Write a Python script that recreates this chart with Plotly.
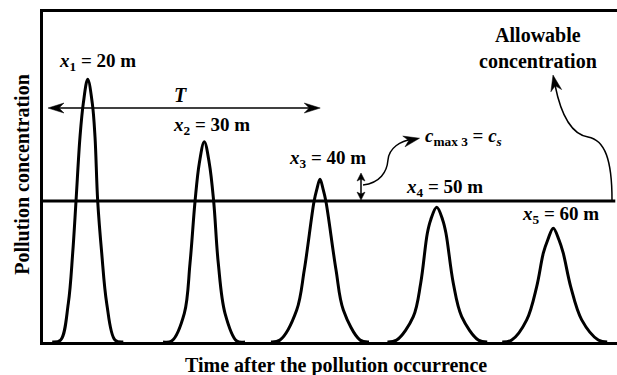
import plotly.graph_objects as go

# ---- data (time 0-100, concentration 0-100 of full scale) ----
labels = ["<i>x</i><sub>1</sub> = 20 m", "<i>x</i><sub>2</sub> = 30 m", "<i>x</i><sub>3</sub> = 40 m",
          "<i>x</i><sub>4</sub> = 50 m", "<i>x</i><sub>5</sub> = 60 m"]

p1_t = [1.6, 3.08, 4.41, 5.17, 5.75, 6.45, 7.02, 7.79, 8.59, 9.06, 9.53, 10.23, 11.10, 12.54, 14.0]
p1_c = [0.0, 0.6, 11.7, 26.9, 42.7, 62.2, 72.3, 79.6, 72.3, 62.2, 42.7, 26.9, 11.7, 0.6, 0.0]

p2_t = [20.9, 22.42, 24.62, 25.61, 26.48, 27.23, 28.10, 28.97, 29.74, 30.54, 31.71, 33.75, 35.2]
p2_c = [0.0, 0.3, 8.7, 23.8, 42.5, 54.2, 60.7, 54.2, 42.5, 23.8, 8.7, 0.3, 0.0]

p3_t = [39.7, 41.29, 44.20, 45.52, 47.21, 47.68, 48.26, 48.83, 49.30, 51.05, 52.32, 55.23, 56.8]
p3_c = [0.0, 0.6, 9.7, 21.8, 42.5, 46.1, 49.3, 46.1, 42.5, 21.8, 9.7, 0.6, 0.0]

p4_t = [60.0, 61.62, 64.51, 65.80, 66.95, 67.54, 68.59, 69.63, 70.21, 71.48, 72.94, 75.84, 77.4]
p4_c = [0.0, 0.6, 7.7, 17.8, 32.9, 37.0, 40.8, 37.0, 32.9, 17.8, 7.7, 0.6, 0.0]

p5_t = [80.0, 81.66, 84.27, 86.01, 87.16, 87.93, 88.90, 89.90, 90.64, 91.93, 93.85, 96.74, 98.3]
p5_c = [0.0, 0.6, 6.7, 16.8, 26.9, 30.9, 34.5, 30.9, 26.9, 16.8, 6.7, 0.6, 0.0]

allowable_c = 42.7
allow_t = [0.0, 99.7]

pulses = [(p1_t, p1_c), (p2_t, p2_c), (p3_t, p3_c), (p4_t, p4_c), (p5_t, p5_c)]

FONT = "Liberation Serif, Times New Roman, serif"
W, H = 617, 375
ML, MR, MT, MB = 43, 0, 12, 33
SX = (W - ML - MR) / 100.0   # pixels per time unit
SY = (H - MT - MB) / 100.0   # pixels per concentration unit

fig = go.Figure()
for t, c in pulses:
    fig.add_trace(go.Scatter(x=t, y=c, mode="lines",
                             line=dict(color="black", width=3, shape="spline", smoothing=1.0),
                             hoverinfo="skip", showlegend=False))

fig.add_trace(go.Scatter(x=allow_t, y=[allowable_c, allowable_c], mode="lines",
                         line=dict(color="black", width=3), hoverinfo="skip", showlegend=False))


def arrowhead(tip_x, tip_y, dir_px, length, half_w, notch):
    """Barbed arrowhead polygon; direction given in screen pixels (dx right, dy down)."""
    import math
    dx, dy = dir_px
    n = math.hypot(dx, dy)
    ux, uy = dx / n, dy / n          # pointing direction (screen)
    px_, py_ = -uy, ux               # perpendicular

    def to_data(ox, oy):
        return tip_x + ox / SX, tip_y - oy / SY

    pts = [(0, 0),
           (-ux * length + px_ * half_w, -uy * length + py_ * half_w),
           (-ux * (length - notch), -uy * (length - notch)),
           (-ux * length - px_ * half_w, -uy * length - py_ * half_w)]
    d = [to_data(ox, oy) for ox, oy in pts]
    path = "M " + " L ".join(f"{a:.3f},{b:.3f}" for a, b in d) + " Z"
    return dict(type="path", xref="x", yref="y", path=path, fillcolor="black",
                line=dict(color="black", width=0.5))


annotations = []

# pulse labels
label_pos = [(9.55, 84.9), (29.44, 65.5), (49.48, 55.5), (69.95, 46.7), (90.24, 38.5)]
for txt, (lx, ly) in zip(labels, label_pos):
    annotations.append(dict(x=lx, y=ly, text="<b>" + txt + "</b>", showarrow=False,
                            font=dict(family=FONT, size=19, color="black"),
                            xanchor="center", yanchor="middle"))

annotations.append(dict(x=23.87, y=74.9, text="<b><i>T</i></b>", showarrow=False,
                        font=dict(family=FONT, size=20, color="black")))
annotations.append(dict(x=73.34, y=62.1, text="<b><i>c</i><sub>max 3</sub> = <i>c<sub>s</sub></i></b>",
                        showarrow=False, font=dict(family=FONT, size=19, color="black")))
annotations.append(dict(x=86.24, y=89.2, text="<b>Allowable<br>concentration</b>", showarrow=False,
                        font=dict(family=FONT, size=20, color="black")))
annotations.append(dict(x=0.51, y=-0.07, xref="paper", yref="paper", showarrow=False,
                        text="<b>Time after the pollution occurrence</b>",
                        font=dict(family=FONT, size=20, color="black"), yanchor="middle"))
annotations.append(dict(x=-0.037, y=0.509, xref="paper", yref="paper", showarrow=False, textangle=-90,
                        text="<b>Pollution concentration</b>",
                        font=dict(family=FONT, size=20, color="black"), xanchor="center", yanchor="middle"))

shapes = [
    # T double arrow
    dict(type="line", xref="x", yref="y", x0=2.5, y0=70.9, x1=46.6, y1=70.9,
         line=dict(color="black", width=1.5)),
    arrowhead(0.87, 70.9, (-1, 0), 16, 5, 5),
    arrowhead(48.3, 70.9, (1, 0), 16, 5, 5),
    # vertical double arrow
    dict(type="line", xref="x", yref="y", x0=55.4, y0=44.5, x1=55.4, y1=49.7,
         line=dict(color="black", width=1.5)),
    arrowhead(55.4, 43.0, (0, 1), 8, 4, 2),
    arrowhead(55.4, 51.2, (0, -1), 8, 4, 2),
    # curved arrow to c_max label
    dict(type="path", xref="x", yref="y", line=dict(color="black", width=1.5),
         path="M 55.75,47.58 C 58.71,48.18 59.93,51.52 60.10,55.15 C 60.28,58.79 62.20,60.91 64.46,61.52"),
    arrowhead(65.6, 61.75, (12, -2.5), 16, 5.5, 5),
    # curved arrow to allowable label
    dict(type="path", xref="x", yref="y", line=dict(color="black", width=1.5),
         path="M 99.13,43.03 C 99.13,55.15 97.91,61.21 94.95,62.12 C 91.81,63.03 90.07,70.30 89.20,77.88"),
    arrowhead(88.85, 80.9, (-2.5, -12), 16, 5.5, 5),
]

fig.update_layout(
    width=W, height=H,
    margin=dict(l=ML, r=MR, t=MT, b=MB),
    font=dict(family=FONT, color="black"),
    paper_bgcolor="white", plot_bgcolor="white",
    xaxis=dict(range=[0, 100], showgrid=False, zeroline=False, showticklabels=False, ticks="",
               showline=True, linecolor="black", linewidth=3, mirror=True),
    yaxis=dict(range=[0, 100], showgrid=False, zeroline=False, showticklabels=False, ticks="",
               showline=True, linecolor="black", linewidth=3, mirror=False),
    annotations=annotations, shapes=shapes, showlegend=False,
)

fig.write_html("out.html")
